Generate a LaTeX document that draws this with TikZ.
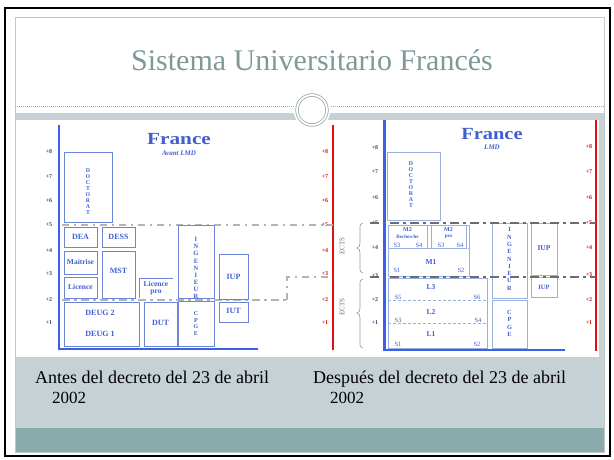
\documentclass[tikz,border=0pt]{standalone}
\usepackage{fontspec}
\setmainfont{Liberation Serif}
\definecolor{titlecol}{HTML}{7F9999}
\definecolor{bandgray}{HTML}{C6D1D6}
\definecolor{tealband}{HTML}{8AABAB}
\definecolor{framegray}{HTML}{BFCACA}
\definecolor{ringcol}{HTML}{9AAAAA}
\definecolor{chartblue}{HTML}{3F5FD0}
\definecolor{boxl}{HTML}{6B86D9}
\definecolor{boxr}{HTML}{9AB0DE}
\definecolor{axisblue}{HTML}{3A60E8}
\definecolor{redax}{HTML}{E01010}
\definecolor{ticklcol}{HTML}{3A4A7A}
\definecolor{lightline}{HTML}{B3B3B3}
\definecolor{darkline}{HTML}{6C6C6C}
\definecolor{bracecol}{HTML}{9A9A9A}
\newcommand{\mybox}[6]{\node[#1, minimum width={#5pt-#3pt}, minimum height={#6pt-#4pt}] (#2) at (#3,#4) {};}
\tikzset{
  bxl/.style={draw=boxl, line width=0.8, inner sep=0, outer sep=0, anchor=north west},
  bxr/.style={draw=boxr, line width=0.7, inner sep=0, outer sep=0, anchor=north west},
  nobx/.style={inner sep=0, outer sep=0, anchor=north west},
  txt/.style={font=\fontsize{8}{8}\selectfont\bfseries, text=chartblue, inner sep=0},
  txtr/.style={font=\fontsize{7.5}{8}\selectfont\bfseries, text=chartblue, inner sep=0},
  smtxt/.style={font=\fontsize{6}{6}\selectfont\bfseries, text=chartblue, inner sep=0},
  stxt/.style={font=\fontsize{6.5}{6.5}\selectfont, text=chartblue, inner sep=0},
  vtxt/.style={font=\fontsize{5.8}{6}\selectfont\bfseries, text=chartblue, inner sep=0, align=center},
  vtxtb/.style={font=\fontsize{6.5}{7.1}\selectfont\bfseries, text=chartblue, inner sep=0, align=center},
  tickl/.style={font=\fontsize{6}{6}\selectfont\bfseries, text=ticklcol, inner sep=0},
  tickr/.style={font=\fontsize{6}{6}\selectfont\bfseries, text=redax, inner sep=0},
  lightdd/.style={lightline, line width=1.3, dash pattern=on 7pt off 5pt on 2pt off 5pt},
  lightdash/.style={lightline, line width=1.8, dash pattern=on 8pt off 4pt on 3pt off 4pt},
  darkdd/.style={darkline, line width=2.2, dash pattern=on 9pt off 4pt on 3pt off 4pt},
  innerdash/.style={boxr, line width=0.7, dash pattern=on 3pt off 2pt},
  bracestyle/.style={bracecol, line width=0.6},
}
\begin{document}
\begin{tikzpicture}[x=1pt,y=-1pt]
\useasboundingbox (0,0) rectangle (614,459);
\fill[white] (0,0) rectangle (614,459);
% slide background
\fill[bandgray] (15,113) rectangle (604,428);
\fill[white] (15,17) rectangle (604,113);
\fill[white] (15,120) rectangle (599,357);
\fill[tealband] (15,428) rectangle (604,452);
\draw[framegray, line width=0.8] (15,17) rectangle (604,452);
\draw[black, line width=2] (5,8) rectangle (610,456);
% title
\node[font=\fontsize{30}{36}\selectfont, text=titlecol, inner sep=0] (title) at (312,60) {Sistema Universitario Francés};
\coordinate (dl1) at (15,106);
\coordinate (dl2) at (604,106);
\draw[ringcol, line width=0.6, dash pattern=on 1pt off 1pt] (dl1) -- (dl2);
\node[circle, fill=white, minimum size=37, inner sep=0] (halo) at (312,110) {};
\node[circle, draw=ringcol, double=white, double distance=1.8pt, line width=0.8, fill=white, minimum size=30, inner sep=0] (ring) at (312,110) {};

% ================= LEFT CHART =================
\coordinate (lax1) at (59,125);
\coordinate (lax2) at (59,350);
\coordinate (lbot) at (258,349);
\draw[axisblue, line width=2.5] (lax1) -- (lax2);
\draw[axisblue, line width=1.5] (59,349) -- (lbot);
\coordinate (rax1) at (333,125);
\coordinate (rax2) at (333,350);
\draw[redax, line width=2] (rax1) -- (rax2);

\node[font=\fontsize{17}{17}\selectfont\bfseries, text=chartblue, xscale=1.25, inner sep=0] (fr1) at (179,139) {France};
\node[font=\fontsize{7}{7}\selectfont\bfseries\itshape, text=chartblue, inner sep=0] (av1) at (179,153) {Avant LMD};

\foreach \v/\yy in {8/152,7/177,6/201,5/225,4/251,3/274,2/300,1/323}{
  \node[tickl] (tl\v) at (49,\yy) {+\v};
  \node[tickr] (tr\v) at (325,\yy) {+\v};
}

% gray level lines
\coordinate (g5a) at (62,225);
\coordinate (g5b) at (333,225);
\draw[lightdd] (g5a) -- (g5b);
\coordinate (g2a) at (62,300);
\coordinate (g2b) at (287,300);
\coordinate (g3a) at (287,277);
\coordinate (g3b) at (333,277);
\draw[lightdash] (g2a) -- (g2b);
\draw[lightdd] (g2b) -- (g3a) -- (g3b);

% boxes
\mybox{bxl}{ldoc}{64}{152}{112}{222}
\mybox{bxl}{ldea}{64}{227}{97}{247}
\mybox{bxl}{ldess}{102}{227}{135}{247}
\mybox{bxl}{lmai}{64}{251}{97}{274}
\mybox{bxl}{lmst}{102}{251}{135}{298}
\mybox{bxl}{llic}{64}{277}{97}{298}
\mybox{nobx}{llp}{139}{278}{173}{298}
\draw[boxl, line width=0.8] (llp.south west) -- (llp.north west) -- (llp.north east);
\mybox{bxl}{ldeug}{64}{302}{139}{346}
\mybox{bxl}{ldut}{144}{302}{177}{346}
\mybox{bxl}{ling}{178}{225}{214}{298}
\mybox{bxl}{lcpge}{178}{301}{214}{346}
\mybox{bxl}{liup}{219}{254}{248}{299}
\mybox{bxl}{liut}{219}{302}{248}{322}

\node[vtxt] (tdoc) at (88,192) {D\\O\\C\\T\\O\\R\\A\\T};
\node[txt] (tdea) at (80.5,237) {DEA};
\node[txt] (tdess) at (118.5,237) {DESS};
\node[txt, font=\fontsize{7.5}{8}\selectfont\bfseries] (tmai) at (80.5,262) {Maitrise};
\node[txt] (tmst) at (118.5,271) {MST};
\node[txt, font=\fontsize{7.5}{8}\selectfont\bfseries] (tlic) at (80.5,287) {Licence};
\node[txt, font=\fontsize{7.5}{7.5}\selectfont\bfseries, align=center] (tlp) at (156,288) {Licence\\pro};
\node[txt] (td2) at (100,313) {DEUG 2};
\node[txt] (td1) at (100,334) {DEUG 1};
\node[txt] (tdut) at (160.5,323) {DUT};
\node[vtxtb] (ting) at (196,268) {I\\N\\G\\E\\N\\I\\E\\U\\R};
\node[vtxt, font=\fontsize{6}{6.4}\selectfont\bfseries] (tcpge) at (196,323.5) {C\\P\\G\\E};
\node[txt] (tiup) at (233.5,277) {IUP};
\node[txt] (tiut) at (233.5,311) {IUT};

% ECTS and braces
\node[rotate=90, font=\fontsize{7}{7}\selectfont, text=darkline, inner sep=0] (ects1) at (342,246) {ECTS};
\node[rotate=90, font=\fontsize{7}{7}\selectfont, text=darkline, inner sep=0] (ects2) at (342,307) {ECTS};
\draw[bracestyle] (363,223) .. controls (360,223) and (360,225) .. (360,229) -- (360,243) .. controls (360,246) and (359,248) .. (357,248) .. controls (359,248) and (360,250) .. (360,253) -- (360,267) .. controls (360,271) and (360,273) .. (363,273);
\draw[bracestyle] (363,279) .. controls (360,279) and (360,281) .. (360,285) -- (360,308) .. controls (360,311) and (359,313) .. (357,313) .. controls (359,313) and (360,315) .. (360,318) -- (360,342) .. controls (360,346) and (360,348) .. (363,348);

% ================= RIGHT CHART =================
\coordinate (bax1) at (384.5,120);
\coordinate (bax2) at (384.5,351);
\coordinate (bbot) at (565,350);
\draw[axisblue, line width=3] (bax1) -- (bax2);
\draw[axisblue, line width=2] (384.5,350) -- (bbot);
\coordinate (rrx1) at (596,120);
\coordinate (rrx2) at (596,351);
\draw[redax, line width=2] (rrx1) -- (rrx2);

\node[font=\fontsize{17}{17}\selectfont\bfseries, text=chartblue, xscale=1.2, inner sep=0] (fr2) at (492,134) {France};
\node[font=\fontsize{7}{7}\selectfont\bfseries\itshape, text=chartblue, inner sep=0] (lmd) at (492,147) {LMD};

\foreach \v/\yy in {8/148,7/172,6/198,5/223,4/248,3/276,2/300,1/323}{
  \node[tickl] (ql\v) at (375,\yy) {+\v};
}
\foreach \v/\yy in {8/147,7/172,6/198,5/223,4/248,3/275,2/300,1/323}{
  \node[tickr] (qr\v) at (589,\yy) {+\v};
}

\mybox{bxr}{rdoc}{387}{152}{440}{220}
\node[vtxt] (rtdoc) at (411,185) {D\\O\\C\\T\\O\\R\\A\\T};

\mybox{bxr}{rm}{388}{225}{469}{276}
\mybox{bxr}{rm2r}{388}{225}{427}{248}
\mybox{bxr}{rm2p}{431}{225}{466}{248}
\coordinate (md1) at (388,248);
\coordinate (md2) at (469,248);
\draw[innerdash] (md1) -- (md2);
\node[smtxt] (tm2a) at (407.5,230) {M2};
\node[smtxt, font=\fontsize{5}{5}\selectfont\bfseries] (trech) at (407.5,236.5) {Recherche};
\node[smtxt] (tm2b) at (448.5,230) {M2};
\node[smtxt, font=\fontsize{5}{5}\selectfont\bfseries] (tpro) at (448.5,236.5) {pro};
\node[stxt] (ms3a) at (397,245) {S3};
\node[stxt] (ms4a) at (419,245) {S4};
\node[stxt] (ms3b) at (441,245) {S3};
\node[stxt] (ms4b) at (460,245) {S4};
\node[txtr] (tm1) at (431,262) {M1};
\node[stxt] (ms1) at (397,270) {S1};
\node[stxt] (ms2) at (461,270) {S2};

\mybox{bxr}{rl}{388}{278}{487}{348}
\coordinate (la1) at (388,300);
\coordinate (la2) at (487,300);
\coordinate (lb1) at (388,323);
\coordinate (lb2) at (487,323);
\draw[innerdash] (la1) -- (la2);
\draw[innerdash] (lb1) -- (lb2);
\node[txtr] (tl3) at (431,287) {L3};
\node[stxt] (ls5) at (398,297) {S5};
\node[stxt] (ls6) at (477,297) {S6};
\node[txtr] (tl2) at (431,312) {L2};
\node[stxt] (ls3) at (398,320) {S3};
\node[stxt] (ls4) at (478,320) {S4};
\node[txtr] (tl1) at (431,334) {L1};
\node[stxt] (ls1) at (398,344) {S1};
\node[stxt] (ls2) at (477,344) {S2};

\mybox{bxr}{ring2}{492}{223}{527}{298}
\mybox{bxr}{rcpge}{492}{300}{527}{348}
\mybox{bxr}{riup}{531}{223}{557}{275}
\mybox{bxr}{riup2}{531}{277}{557}{297}
\node[vtxtb, font=\fontsize{6.3}{7.3}\selectfont\bfseries] (rting) at (509.5,259) {I\\N\\G\\E\\N\\I\\E\\U\\R};
\node[vtxtb, font=\fontsize{6.3}{7.6}\selectfont\bfseries] (rtcpge) at (509.5,323.5) {C\\P\\G\\E};
\node[txtr] (rtiup) at (544,248) {IUP};
\node[txtr, font=\fontsize{6.5}{7}\selectfont\bfseries] (rtiup2) at (544,287) {IUP};

\coordinate (h5a) at (370,223);
\coordinate (h5b) at (596,223);
\coordinate (h3a) at (370,277);
\coordinate (h3b) at (596,277);
\draw[darkdd] (h5a) -- (h5b);
\draw[darkdd] (h3a) -- (h3b);

% captions
\node[anchor=base west, font=\fontsize{18}{22}\selectfont, inner sep=0] (cap1) at (35,383) {Antes del decreto del 23 de abril};
\node[anchor=base west, font=\fontsize{17}{22}\selectfont, inner sep=0] (cap1y) at (52,403) {2002};
\node[anchor=base west, font=\fontsize{18}{22}\selectfont, inner sep=0] (cap2) at (313,383) {Después del decreto del 23 de abril};
\node[anchor=base west, font=\fontsize{17}{22}\selectfont, inner sep=0] (cap2y) at (330,403) {2002};
\end{tikzpicture}
\end{document}
